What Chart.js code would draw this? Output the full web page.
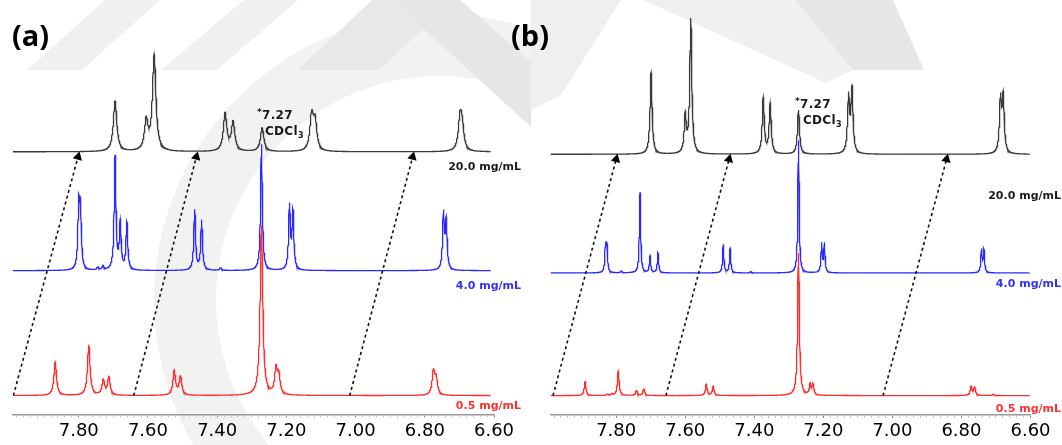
<!DOCTYPE html>
<html>
<head>
<meta charset="utf-8">
<script src="https://cdn.jsdelivr.net/npm/chart.js@4.4.1/dist/chart.umd.min.js"></script>
<style>
  html, body { margin: 0; padding: 0; background: #fff; }
  #wrap { position: relative; width: 1062px; height: 445px; overflow: hidden; font-family: "DejaVu Sans", sans-serif; }
  canvas { position: absolute; top: 0; }
  #specA { left: 0; }
  #specB { left: 531px; }
  .t { position: absolute; white-space: nowrap; line-height: 1; }
  .panel { font-family: "Open Sans", sans-serif; font-weight: 700; font-size: 29px; color: #000; }
  .ref { font-size: 12px; font-weight: bold; color: #1a1a1a; letter-spacing: 0.3px; }
  .ref sup { font-size: 9px; vertical-align: 4px; }
  .ref sub { font-size: 8px; vertical-align: -3px; }
  .conc { font-size: 11px; font-weight: bold; color: #1a1a1a; text-align: right; }
  .blue { color: #3030ff; }
  .red { color: #ff3030; }
</style>
</head>
<body>
<div id="wrap">
  <canvas id="specA" width="531" height="445"></canvas>
  <canvas id="specB" width="531" height="445"></canvas>

  <div class="t panel" style="left:12px;top:20px">(a)</div>
  <div class="t panel" style="left:511px;top:20px">(b)</div>

  <div class="t ref" style="left:257px;top:108px"><sup>*</sup>7.27</div>
  <div class="t ref" style="left:265px;top:125px">CDCl<sub>3</sub></div>
  <div class="t ref" style="left:795px;top:97px"><sup>*</sup>7.27</div>
  <div class="t ref" style="left:803px;top:114px">CDCl<sub>3</sub></div>

  <div class="t conc" style="right:541px;top:161px" id="cA0"></div>
  <div class="t conc blue" style="right:541px;top:280px" id="cA1"></div>
  <div class="t conc red" style="right:541px;top:400px" id="cA2"></div>
  <div class="t conc" style="right:1px;top:190px" id="cB0"></div>
  <div class="t conc blue" style="right:1px;top:278px" id="cB1"></div>
  <div class="t conc red" style="right:1px;top:403px" id="cB2"></div>
</div>

<script>
// chemical shift axis (ppm), drawn high -> low
const shiftMax = 7.99;
const shiftMin = 6.60;
const tickValues = [7.80, 7.60, 7.40, 7.20, 7.00, 6.80, 6.60];
const concentrations = ['20.0 mg/mL', '4.0 mg/mL', '0.5 mg/mL'];

// peak lists: [shift ppm, intensity]
const peaksA20 = [[7.695, 51], [7.605, 30], [7.582, 97], [7.377, 38], [7.354, 29], [7.270, 24],
                  [7.127, 35], [7.117, 29], [6.698, 32], [6.692, 21]];
const peaksA4  = [[7.800, 62], [7.795, 56], [7.745, 3], [7.730, 4], [7.695, 115], [7.680, 47], [7.661, 48],
                  [7.465, 61], [7.445, 50], [7.390, 3], [7.272, 128], [7.191, 64], [7.181, 58],
                  [6.746, 56], [6.738, 48]];
const peaksA05 = [[7.868, 34], [7.771, 51], [7.729, 15], [7.713, 18], [7.524, 25], [7.506, 19],
                  [7.272, 172], [7.230, 25], [7.222, 19], [6.775, 24], [6.767, 16]];

const peaksB20 = [[7.699, 83], [7.600, 38], [7.584, 137], [7.374, 57], [7.354, 51], [7.272, 45],
                  [7.127, 57], [7.117, 64], [6.687, 54], [6.679, 56]];
const peaksB4  = [[7.831, 26], [7.827, 26], [7.785, 2], [7.731, 82], [7.702, 17], [7.679, 20.5],
                  [7.490, 29], [7.470, 24.5], [7.410, 1.5], [7.272, 135], [7.205, 29.5], [7.197, 29],
                  [6.742, 23], [6.735, 23]];
const peaksB05 = [[7.890, 14], [7.825, 1.5], [7.812, 1.5], [7.794, 25], [7.741, 5.5], [7.720, 7],
                  [7.539, 11.5], [7.519, 9.5], [7.272, 145], [7.238, 11], [7.230, 10.5],
                  [6.772, 9], [6.762, 9], [6.708, 1.5]];

// dashed guide arrows: [shift at 0.5 mg/mL, shift at 20.0 mg/mL]
const arrowsA = [[7.989, 7.802], [7.641, 7.460], [7.017, 6.835]];
const arrowsB = [[7.983, 7.800], [7.656, 7.473], [7.027, 6.843]];

// stacking and line shape
const baseA = [266.2, 145.8, 19.2];
const baseB = [265.8, 144.8, 19.8];
const halfWidthA = [0.006, 0.003, 0.0045];
const halfWidthB = [0.0035, 0.0022, 0.003];
const colors = ['#3a3a3a', '#2a2aff', '#ff2d2d'];

// faint watermark behind the plots (canvas pixels)
const markA = {
  polys: [
    ['#f0f0f0', [[105, 0], [160, 0], [82, 70], [27, 70]]],
    ['#f0f0f0', [[244, 0], [298, 0], [217, 70], [161, 70]]],
    ['#e8e8e8', [[372, 0], [454, 0], [379, 70], [298, 70]]],
    ['#e6e6e6', [[392, 0], [460, 0], [531, 62], [531, 127]]]
  ],
  ring: { x: 440, y: 300, r: 255, w: 62, from: 140, to: 300, color: '#f2f2f2' }
};
const markB = {
  polys: [
    ['#efefef', [[0, 0], [90, 0], [30, 95], [0, 110]]],
    ['#f0f0f0', [[112, 0], [264, 0], [322, 70], [295, 83]]],
    ['#e6e6e6', [[264, 0], [362, 0], [393, 70], [322, 70]]]
  ],
  ring: null
};

const watermark = {
  id: 'watermark',
  beforeDraw(chart, args, opts) {
    const ctx = chart.ctx, m = opts.mark;
    ctx.save();
    if (m.ring) {
      const r = m.ring;
      ctx.strokeStyle = r.color; ctx.lineWidth = r.w;
      ctx.beginPath();
      ctx.arc(r.x, r.y, r.r, r.from * Math.PI / 180, r.to * Math.PI / 180);
      ctx.stroke();
    }
    m.polys.forEach(([c, pts]) => {
      ctx.fillStyle = c;
      ctx.beginPath();
      pts.forEach(([x, y], i) => i ? ctx.lineTo(x, y) : ctx.moveTo(x, y));
      ctx.closePath();
      ctx.fill();
    });
    ctx.restore();
  }
};

function spectrum(peaks, base, g, end) {
  const pts = [];
  for (let x = shiftMax; x >= end; x -= 0.0005) {
    let y = base;
    for (const [c, h] of peaks) y += h * g * g / ((x - c) * (x - c) + g * g);
    pts.push({ x, y });
  }
  return pts;
}

function build(id, peakSets, bases, widths, arrows, end, o) {
  const datasets = peakSets.map((p, i) => ({
    data: spectrum(p, bases[i], widths[i], end),
    borderColor: colors[i], borderWidth: 1.3, pointRadius: 0, order: 3 - i
  }));
  arrows.forEach(([lo, hi]) => datasets.push({
    data: [{ x: lo, y: bases[2] }, { x: hi, y: bases[0] - 5 }],
    borderColor: '#111', borderWidth: 1.6, borderDash: [3, 3],
    pointRadius: [0, 5.5], pointStyle: 'triangle', pointRotation: o.rot,
    pointBackgroundColor: '#000', pointBorderColor: '#000', pointBorderWidth: 0, order: 0
  }));
  const minor = [];
  for (let v = 660; v <= 798; v += 2) minor.push(v / 100);
  return new Chart(document.getElementById(id), {
    type: 'line',
    data: { datasets },
    plugins: [watermark],
    options: {
      responsive: false, animation: false, events: [], parsing: false, normalized: true,
      layout: { padding: { left: o.left, right: o.right, top: 0, bottom: 0 } },
      plugins: { legend: { display: false }, tooltip: { enabled: false }, watermark: { mark: o.mark } },
      scales: {
        x: {
          type: 'linear', reverse: true, min: shiftMin, max: shiftMax,
          afterBuildTicks: s => { s.ticks = minor.map(v => ({ value: v })); },
          ticks: {
            autoSkip: false, maxRotation: 0, padding: o.pad, color: '#000',
            font: { family: 'DejaVu Sans', size: 18, lineHeight: o.lh },
            callback: v => tickValues.some(t => Math.abs(t - v) < 1e-6) ? v.toFixed(2) : ''
          },
          grid: {
            drawOnChartArea: false, drawTicks: true, tickLength: 3, lineWidth: 1,
            color: c => tickValues.some(t => Math.abs(t - c.tick.value) < 1e-6) ? '#888' : '#c8c8c8'
          },
          border: { display: true, color: '#9a9a9a', width: 1.5 }
        },
        y: { display: false, min: 0, max: o.ymax }
      }
    }
  });
}

build('specA', [peaksA20, peaksA4, peaksA05], baseA, halfWidthA, arrowsA, 6.61,
  { left: 13, right: 37, ymax: 414.5, pad: 0, lh: 27.5 / 18, rot: 14.8, mark: markA });
build('specB', [peaksB20, peaksB4, peaksB05], baseB, halfWidthB, arrowsB, 6.603,
  { left: 19.6, right: 31.5, ymax: 417.5, pad: 2.5, lh: 22 / 18, rot: 14.6, mark: markB });

['cA', 'cB'].forEach(p => concentrations.forEach((c, i) => {
  document.getElementById(p + i).textContent = c;
}));
</script>
</body>
</html>
